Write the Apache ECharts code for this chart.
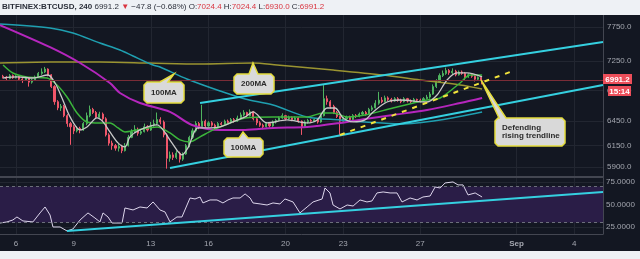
<!DOCTYPE html>
<html>
<head>
<meta charset="utf-8">
<style>
  html, body { margin: 0; padding: 0; background: #eef1f5; }
  #chart { width: 640px; height: 259px; }
</style>
<script src="https://cdn.jsdelivr.net/npm/echarts@6/dist/echarts.min.js"></script>
</head>
<body>
<div id="chart"></div>
<script>
// x unit = day of August (32 = Sep 1), 4h candles from Aug 5 08:00
const firstCandle = 5 + 8 / 24
const xMin = 5.17
const xMax = 36.49

// [open, close, low, high]
const ohlc = [
  [7040, 7030, 7010, 7060], [7030, 7010, 6990, 7045], [7010, 7050, 7000, 7070], [7050, 7020, 7005, 7065],
  [7020, 7040, 7010, 7055], [7040, 7000, 6985, 7050], [7000, 6990, 6950, 7015], [6990, 7020, 6980, 7035],
  [7020, 6960, 6900, 7030], [6960, 6990, 6940, 7005], [6990, 7030, 6980, 7050], [7030, 7080, 7020, 7100],
  [7080, 7100, 7060, 7150], [7100, 7140, 7085, 7170], [7140, 7060, 7040, 7150], [7060, 6900, 6880, 7070],
  [6900, 6700, 6660, 6920], [6700, 6620, 6590, 6720], [6620, 6640, 6580, 6670], [6640, 6520, 6500, 6660],
  [6520, 6420, 6380, 6540], [6420, 6380, 6160, 6440], [6380, 6330, 6290, 6400], [6330, 6360, 6310, 6390],
  [6360, 6340, 6300, 6380], [6340, 6420, 6330, 6440], [6420, 6520, 6400, 6560], [6520, 6600, 6500, 6650],
  [6600, 6560, 6540, 6620], [6560, 6500, 6480, 6580], [6500, 6540, 6490, 6570], [6540, 6480, 6450, 6560],
  [6480, 6280, 6260, 6500], [6280, 6180, 6150, 6300], [6180, 6150, 6100, 6210], [6150, 6120, 6090, 6170],
  [6120, 6140, 6080, 6170], [6140, 6090, 6060, 6160], [6090, 6150, 6080, 6180], [6150, 6250, 6140, 6280],
  [6250, 6320, 6240, 6350], [6320, 6350, 6300, 6400], [6350, 6300, 6270, 6370], [6300, 6320, 6280, 6350],
  [6320, 6380, 6310, 6420], [6380, 6340, 6320, 6400], [6340, 6400, 6330, 6440], [6400, 6420, 6380, 6470],
  [6420, 6470, 6400, 6560], [6470, 6440, 6410, 6500], [6440, 6280, 6250, 6460], [6280, 6000, 5880, 6300],
  [6000, 6040, 5960, 6080], [6040, 6010, 5980, 6070], [6010, 6060, 5990, 6090], [6060, 5990, 5950, 6080],
  [5990, 6050, 5970, 6070], [6050, 6150, 6040, 6170], [6150, 6250, 6130, 6270], [6250, 6330, 6230, 6360],
  [6330, 6420, 6310, 6450], [6420, 6380, 6350, 6440], [6380, 6450, 6370, 6660], [6450, 6390, 6370, 6470],
  [6390, 6430, 6380, 6450], [6430, 6400, 6380, 6450], [6400, 6370, 6340, 6420], [6370, 6420, 6360, 6440],
  [6420, 6410, 6390, 6440], [6410, 6450, 6400, 6470], [6450, 6430, 6410, 6470], [6430, 6470, 6420, 6490],
  [6470, 6450, 6430, 6490], [6450, 6490, 6440, 6520], [6490, 6530, 6480, 6560], [6530, 6560, 6510, 6590],
  [6560, 6520, 6500, 6570], [6520, 6570, 6510, 6600], [6570, 6480, 6460, 6580], [6480, 6430, 6400, 6500],
  [6430, 6400, 6380, 6450], [6400, 6380, 6350, 6420], [6380, 6420, 6370, 6440], [6420, 6390, 6370, 6430],
  [6390, 6440, 6380, 6460], [6440, 6460, 6420, 6480], [6460, 6490, 6450, 6510], [6490, 6520, 6480, 6550],
  [6520, 6480, 6460, 6530], [6480, 6500, 6470, 6520], [6500, 6470, 6450, 6510], [6470, 6490, 6460, 6510],
  [6490, 6450, 6430, 6500], [6450, 6380, 6280, 6460], [6380, 6440, 6370, 6460], [6440, 6460, 6420, 6480],
  [6460, 6450, 6430, 6480], [6450, 6470, 6440, 6490], [6470, 6440, 6420, 6480], [6440, 6520, 6430, 6540],
  [6520, 6740, 6510, 6920], [6740, 6700, 6660, 6780], [6700, 6640, 6610, 6720], [6640, 6560, 6540, 6660],
  [6560, 6510, 6490, 6580], [6510, 6450, 6280, 6520], [6450, 6480, 6430, 6500], [6480, 6500, 6460, 6520],
  [6500, 6470, 6450, 6520], [6470, 6520, 6460, 6540], [6520, 6510, 6490, 6540], [6510, 6540, 6500, 6560],
  [6540, 6560, 6520, 6580], [6560, 6540, 6520, 6580], [6540, 6600, 6530, 6620], [6600, 6620, 6580, 6650],
  [6620, 6680, 6610, 6720], [6680, 6720, 6660, 6830], [6720, 6700, 6680, 6760], [6700, 6750, 6690, 6780],
  [6750, 6730, 6710, 6770], [6730, 6710, 6690, 6750], [6710, 6740, 6700, 6760], [6740, 6720, 6700, 6760],
  [6720, 6700, 6680, 6740], [6700, 6740, 6690, 6760], [6740, 6710, 6690, 6750], [6710, 6700, 6680, 6730],
  [6700, 6730, 6690, 6750], [6730, 6720, 6700, 6740], [6720, 6710, 6690, 6740], [6710, 6740, 6700, 6760],
  [6740, 6760, 6730, 6790], [6760, 6800, 6740, 6830], [6800, 6900, 6790, 6930], [6900, 6960, 6880, 7000],
  [6960, 7050, 6950, 7080], [7050, 7080, 7030, 7120], [7080, 7120, 7060, 7160], [7120, 7090, 7060, 7140],
  [7090, 7110, 7070, 7150], [7110, 7060, 7040, 7130], [7060, 7100, 7050, 7120], [7100, 7080, 7060, 7120],
  [7080, 7030, 6990, 7100], [7030, 7060, 7020, 7080], [7060, 7040, 7020, 7070], [7040, 7000, 6970, 7060],
  [7000, 7024.4, 6980, 7040], [7024.4, 6991.2, 6930, 7024.4]
]
const lastPrice = 6991.2

// moving averages, [day, price]
const ma100Teal = [[5.17, 7795], [7.77, 7735], [8.96, 7660], [10.36, 7512], [11.40, 7410], [12.08, 7324],
  [13.12, 7197], [13.48, 7169], [14.88, 7003], [16.60, 6841], [17.90, 6735], [19.35, 6657], [21.12, 6504],
  [22.83, 6466], [24.13, 6441], [25.95, 6416], [28.03, 6466], [30.21, 6568]]
const ma100Purple = [[5.17, 7780], [7.77, 7452], [9.33, 7225], [10.88, 6949], [11.40, 6815], [12.44, 6683],
  [14.00, 6568], [15.14, 6403], [16.60, 6341], [17.90, 6341], [19.35, 6366], [21.12, 6378], [22.83, 6428],
  [24.13, 6479], [25.58, 6529], [27.35, 6593], [29.07, 6683], [30.21, 6749]]
const ma200 = [[5.17, 7225], [7.77, 7239], [10.36, 7239], [12.96, 7225], [15.56, 7211], [18.31, 7225],
  [19.56, 7197], [22.47, 7127], [25.07, 7058], [26.99, 6990], [29.07, 6922], [30.21, 6868]]
const maSlow = [[5.33, 7197], [5.84, 7086], [6.57, 7031], [7.61, 7017], [8.13, 6922], [8.65, 6762], [9.17, 6555],
  [9.69, 6441], [10.36, 6428], [10.88, 6428], [11.30, 6366], [11.66, 6317], [12.29, 6341], [13.33, 6378],
  [14.00, 6304], [14.52, 6219], [15.04, 6195], [15.56, 6256], [16.24, 6341], [17.12, 6428], [17.90, 6491],
  [19.35, 6504], [21.12, 6504], [21.95, 6555], [22.47, 6555], [23.20, 6504], [24.13, 6529], [25.58, 6618],
  [27.35, 6722], [28.03, 6749], [29.07, 6949], [29.59, 7058], [30.21, 7058]]
const maFast = [[5.33, 7017], [6.05, 7031], [6.88, 7017], [7.66, 7058], [8.03, 6949], [8.39, 6749], [8.81, 6504],
  [9.33, 6341], [9.69, 6378], [10.21, 6491], [10.52, 6441], [10.88, 6317], [11.30, 6183], [11.66, 6135],
  [11.92, 6256], [12.44, 6341], [13.33, 6403], [13.64, 6341], [14.10, 6183], [14.62, 6040], [14.93, 6123],
  [15.45, 6366], [16.08, 6366], [16.60, 6378], [17.27, 6441], [17.90, 6504], [18.31, 6568], [19.04, 6428],
  [20.08, 6466], [21.12, 6428], [21.64, 6466], [22.16, 6618], [22.57, 6618], [22.99, 6491], [23.51, 6441],
  [24.13, 6466], [24.55, 6568], [25.27, 6696], [25.95, 6722], [27.35, 6696], [27.87, 6788], [28.39, 6990],
  [28.91, 7086], [29.43, 7086], [30.21, 7031]]

// hand drawn lines
const channelUpper = [[15.56, 6683], [36.49, 7527]]
const channelLower = [[14.00, 5888], [36.49, 6921]]
const risingSupport = [[22.83, 6279], [31.66, 7099]]
const rsiTrend = [[8.65, 20.6], [36.49, 63.9]]

const rsi = [[5.17, 29.4], [5.53, 30.6], [5.84, 32.8], [6.05, 36.1], [6.36, 31.7], [6.88, 30.6], [7.25, 40.6],
  [7.51, 47.2], [7.77, 38.3], [7.92, 25.0], [8.29, 25.0], [8.65, 20.6], [8.96, 22.8], [9.33, 32.8], [9.74, 40.6],
  [10.10, 35.0], [10.36, 30.6], [10.52, 40.6], [10.78, 36.1], [10.99, 29.4], [11.51, 29.4], [11.66, 46.1],
  [12.08, 43.9], [12.44, 47.2], [12.81, 46.1], [13.12, 52.8], [13.48, 43.9], [13.74, 41.7], [14.00, 30.6],
  [14.36, 36.1], [14.62, 36.1], [15.04, 57.2], [15.30, 56.1], [15.56, 58.3], [15.71, 51.7], [16.08, 55.0],
  [16.44, 55.0], [16.75, 51.7], [17.01, 55.0], [17.27, 57.2], [17.64, 57.2], [17.90, 61.7], [18.16, 57.2],
  [18.31, 51.7], [18.68, 50.6], [19.04, 49.4], [19.35, 51.7], [19.71, 50.6], [19.97, 56.1], [20.39, 52.8],
  [20.75, 40.6], [21.12, 47.2], [21.43, 52.8], [21.90, 56.1], [22.05, 68.3], [22.31, 62.8], [22.47, 49.4],
  [22.83, 45.0], [23.20, 49.4], [23.51, 48.3], [23.87, 55.0], [24.23, 52.8], [24.49, 53.9], [24.75, 62.8],
  [25.07, 63.9], [25.43, 62.8], [25.79, 62.8], [26.05, 52.8], [26.47, 57.2], [26.83, 55.0], [27.14, 58.3],
  [27.51, 59.4], [27.77, 69.4], [28.03, 68.3], [28.29, 73.9], [28.70, 75.0], [28.96, 71.7], [29.22, 71.7],
  [29.48, 60.6], [29.85, 62.8], [30.21, 58.3]]

const priceTicks = [5900, 6150, 6450, 6850, 7250, 7750]
const rsiTicks = [25, 50, 75]
const dayTicks = [6, 9, 13, 16, 20, 23, 27, 32, 35]
const dayLabels = ['6', '9', '13', '16', '20', '23', '27', 'Sep', '4']

const chart = echarts.init(document.getElementById('chart'))

const axisColor = '#434651'
const gridColor = '#222631'
const labelColor = '#a3a6af'
const font = '"Liberation Sans", Arial, sans-serif'

function maLine(data, color, width) {
  return {
    type: 'line', data: data, showSymbol: false, smooth: 0.3, silent: true,
    lineStyle: { color: color, width: width }, z: 3
  }
}

function drawnLine(data, color, type, xi) {
  return {
    type: 'line', data: data, showSymbol: false, silent: true,
    xAxisIndex: xi || 0, yAxisIndex: xi || 0,
    lineStyle: { color: color, width: 2, type: type }, z: 5
  }
}

function callout(x, y, w, h, b1, b2, tip, text, multiline) {
  const r = 3
  return [
    {
      type: 'polygon', z: 100,
      shape: { points: [[x + r, y], [b1, y], tip, [b2, y], [x + w - r, y], [x + w, y + r], [x + w, y + h - r],
        [x + w - r, y + h], [x + r, y + h], [x, y + h - r], [x, y + r]] },
      style: { fill: '#d9d9d9', stroke: '#e4dc3c', lineWidth: 1.5 }
    },
    {
      type: 'text', z: 101,
      x: multiline ? x + 7 : x + w / 2, y: y + h / 2,
      style: {
        text: text, fill: '#2b2b2b', font: 'bold 8px ' + font, lineHeight: 8,
        align: multiline ? 'left' : 'center', verticalAlign: 'middle'
      }
    }
  ]
}

chart.setOption({
  animation: false,
  backgroundColor: '#131722',
  grid: [
    { left: 0, right: 37, top: 15, height: 162 },
    { left: 0, right: 37, top: 178, height: 56 }
  ],
  xAxis: [
    {
      type: 'value', gridIndex: 0, min: xMin, max: xMax,
      axisLine: { onZero: false, lineStyle: { color: axisColor, width: 2 } },
      axisTick: { show: false, customValues: dayTicks },
      axisLabel: { show: false, customValues: dayTicks },
      splitLine: { lineStyle: { color: gridColor } }
    },
    {
      type: 'value', gridIndex: 1, min: xMin, max: xMax,
      axisLine: { onZero: false, lineStyle: { color: axisColor } },
      axisTick: { show: false, customValues: dayTicks },
      axisLabel: {
        customValues: dayTicks, color: labelColor, fontSize: 8, fontFamily: font, margin: 6,
        formatter: v => {
          const s = dayLabels[dayTicks.indexOf(Math.round(v))]
          return s === 'Sep' ? '{m|Sep}' : s
        },
        rich: { m: { fontWeight: 'bold', color: labelColor, fontSize: 8, fontFamily: font } }
      },
      splitLine: { lineStyle: { color: gridColor } }
    }
  ],
  yAxis: [
    {
      type: 'log', gridIndex: 0, position: 'right', min: 5785, max: 7934,
      axisLine: { show: true, lineStyle: { color: axisColor } },
      axisTick: { show: false, customValues: priceTicks },
      axisLabel: {
        customValues: priceTicks, color: labelColor, fontSize: 8, fontFamily: font, margin: 4,
        formatter: v => v.toFixed(1)
      },
      splitLine: { lineStyle: { color: gridColor } }
    },
    {
      type: 'value', gridIndex: 1, position: 'right', min: 17.2, max: 79.4,
      axisLine: { show: true, lineStyle: { color: axisColor } },
      axisTick: { show: false, customValues: rsiTicks },
      axisLabel: {
        customValues: rsiTicks, color: labelColor, fontSize: 8, fontFamily: font, margin: 3,
        formatter: v => v.toFixed(4)
      },
      splitLine: { lineStyle: { color: gridColor } }
    }
  ],
  series: [
    maLine(ma200, '#9a9431', 1.5),
    maLine(ma100Teal, '#1f9fb0', 1.5),
    maLine(ma100Purple, '#b526bd', 2),
    {
      type: 'candlestick',
      data: ohlc.map((d, i) => [firstCandle + i / 6, d[0], d[1], d[2], d[3]]),
      encode: { x: 0, y: [1, 2, 3, 4] },
      barWidth: 1.6,
      silent: true,
      itemStyle: {
        color: '#4fb35f', color0: '#f0566a',
        borderColor: '#4fb35f', borderColor0: '#f0566a', borderWidth: 1
      },
      markLine: {
        silent: true, symbol: 'none', label: { show: false },
        lineStyle: { color: '#7a2c37', type: 'solid', width: 1 },
        data: [{ yAxis: lastPrice }]
      },
      z: 2
    },
    maLine(maSlow, '#3bb53b', 1.5),
    maLine(maFast, '#c8c8c8', 1.3),
    drawnLine(channelUpper, '#35d0e0', 'solid'),
    drawnLine(channelLower, '#35d0e0', 'solid'),
    drawnLine(risingSupport, '#f2e43c', [5, 6]),
    {
      type: 'line', xAxisIndex: 1, yAxisIndex: 1, data: rsi, showSymbol: false, silent: true,
      lineStyle: { color: '#ddd6ec', width: 1 },
      markArea: {
        silent: true,
        itemStyle: { color: '#2a1d47' },
        data: [[{ yAxis: 30 }, { yAxis: 70 }]]
      },
      markLine: {
        silent: true, symbol: 'none', label: { show: false },
        lineStyle: { color: '#6c6f7b', type: [3, 3], width: 1 },
        data: [{ yAxis: 70 }, { yAxis: 30 }]
      },
      z: 3
    },
    drawnLine(rsiTrend, '#35d0e0', 'solid', 1)
  ],
  graphic: [
    { type: 'rect', z: 100, shape: { x: 0, y: 0, width: 640, height: 15 }, style: { fill: '#eef1f5' } },
    { type: 'rect', z: 100, shape: { x: 0, y: 251, width: 640, height: 8 }, style: { fill: '#eef1f5' } },
    {
      type: 'text', z: 101, x: 2, y: 7,
      style: {
        text: '{b|BITFINEX:BTCUSD, 240} {n|6991.2} {r|▼} {n|−47.8 (−0.68%)} {n|O:}{r|7024.4} {n|H:}{r|7024.4} {n|L:}{r|6930.0} {n|C:}{r|6991.2}',
        verticalAlign: 'middle',
        font: '8px ' + font,
        rich: {
          b: { fontWeight: 'bold', fill: '#2a2e39', fontSize: 8, fontFamily: font },
          n: { fill: '#2a2e39', fontSize: 8, fontFamily: font },
          r: { fill: '#d9343f', fontSize: 8, fontFamily: font }
        }
      }
    },
    { type: 'rect', z: 100, shape: { x: 603, y: 74, width: 29, height: 10 }, style: { fill: '#ec4e5a' } },
    {
      type: 'text', z: 101, x: 617.5, y: 79.5,
      style: { text: '6991.2', fill: '#ffffff', font: 'bold 8px ' + font, align: 'center', verticalAlign: 'middle' }
    },
    { type: 'rect', z: 100, shape: { x: 608, y: 86, width: 23, height: 10 }, style: { fill: '#ec4e5a' } },
    {
      type: 'text', z: 101, x: 619.5, y: 91.5,
      style: { text: '15:14', fill: '#ffffff', font: 'bold 8px ' + font, align: 'center', verticalAlign: 'middle' }
    },
    ...callout(144, 82, 40, 21, 160, 168, [174, 74], '100MA'),
    ...callout(234, 74, 40, 20, 249, 258, [253, 63], '200MA'),
    ...callout(224, 138, 39, 19, 239, 248, [243, 132], '100MA'),
    ...callout(495, 118, 70, 28, 499, 506, [481, 80], 'Defending\nrising trendline', true)
  ]
})
</script>
</body>
</html>
